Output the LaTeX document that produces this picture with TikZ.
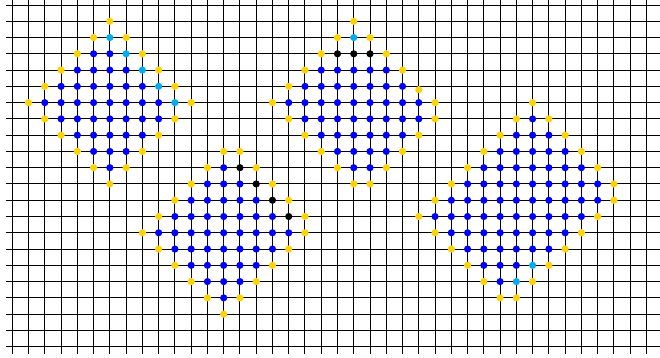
\documentclass[tikz,border=0pt]{standalone}
\definecolor{dotgold}{RGB}{255,210,0}
\begin{document}
\begin{tikzpicture}[x=16.26pt,y=-16.27pt,
  dot/.style={circle,inner sep=0pt,minimum size=7.2pt,draw=none},
  bdot/.style={dot,fill=blue},
  ydot/.style={dot,fill=dotgold},
  cdot/.style={dot,fill=cyan},
  kdot/.style={dot,fill=black},
  gridline/.style={black,line width=1pt}]
\useasboundingbox (-0.7565,-0.3073) rectangle (39.834,21.635);
\fill[white] (-0.7565,-0.3073) rectangle (39.834,21.635);
% grid
\foreach \j in {0,...,21} \draw[gridline] (-0.3875,\j) -- (39.834,\j);
\foreach \i in {0,...,39} \draw[gridline] (\i,-0.3073) -- (\i,21.45);
% ---------- blue interiors ----------
\foreach \r/\a/\b in {3/5/6,4/4/7,5/3/8,6/2/9,7/3/9,8/4/8,9/5/7,10/6/6,
                      10/13/13,11/12/14,12/11/15,13/10/16,14/9/17,15/10/16,16/11/15,17/12/14,18/13/13,
                      4/19/23,5/18/24,6/17/25,7/18/25,8/19/24,9/20/23,10/21/22,
                      7/32/32,8/31/33,9/30/34,10/29/35,11/28/36,12/27/36,13/26/35,14/27/34,15/28/33,16/29/31,17/30/30}
  \foreach \c in {\a,...,\b} \node[bdot] (b-\c-\r) at (\c,\r) {};
% ---------- cyan ----------
\foreach \c/\r in {6/2,7/3,8/4,9/5,10/6, 21/2, 32/16,31/17}
  \node[cdot] (c-\c-\r) at (\c,\r) {};
% ---------- black ----------
\foreach \c/\r in {14/10,15/11,16/12,17/13, 20/3,21/3,22/3}
  \node[kdot] (k-\c-\r) at (\c,\r) {};
% ---------- yellow boundaries ----------
\foreach \c/\r in {6/1,5/2,7/2,4/3,8/3,3/4,9/4,2/5,10/5,1/6,11/6,2/7,10/7,3/8,9/8,4/9,8/9,5/10,7/10,6/11,
                   13/9,14/9,12/10,15/10,11/11,16/11,10/12,17/12,9/13,18/13,8/14,18/14,9/15,17/15,10/16,16/16,11/17,15/17,12/18,14/18,13/19,
                   21/1,20/2,22/2,19/3,23/3,18/4,24/4,17/5,25/5.2,16/6,26/6,17/7,26/7,18/8,25/8,19/9,24/9,20/10,23/10,21/11,22/11,
                   32/6,31/7,33/7,30/8,34/8,29/9,35/9,28/10,36/10,27/11,37/11,26/12,37/12,25/13,36/13,26/14,35/14,27/15,34/15,28/16,33/16,29/17,32/17,30/18,31/18}
  \node[ydot] (y-\c-\r) at (\c,\r) {};
\end{tikzpicture}
\end{document}
